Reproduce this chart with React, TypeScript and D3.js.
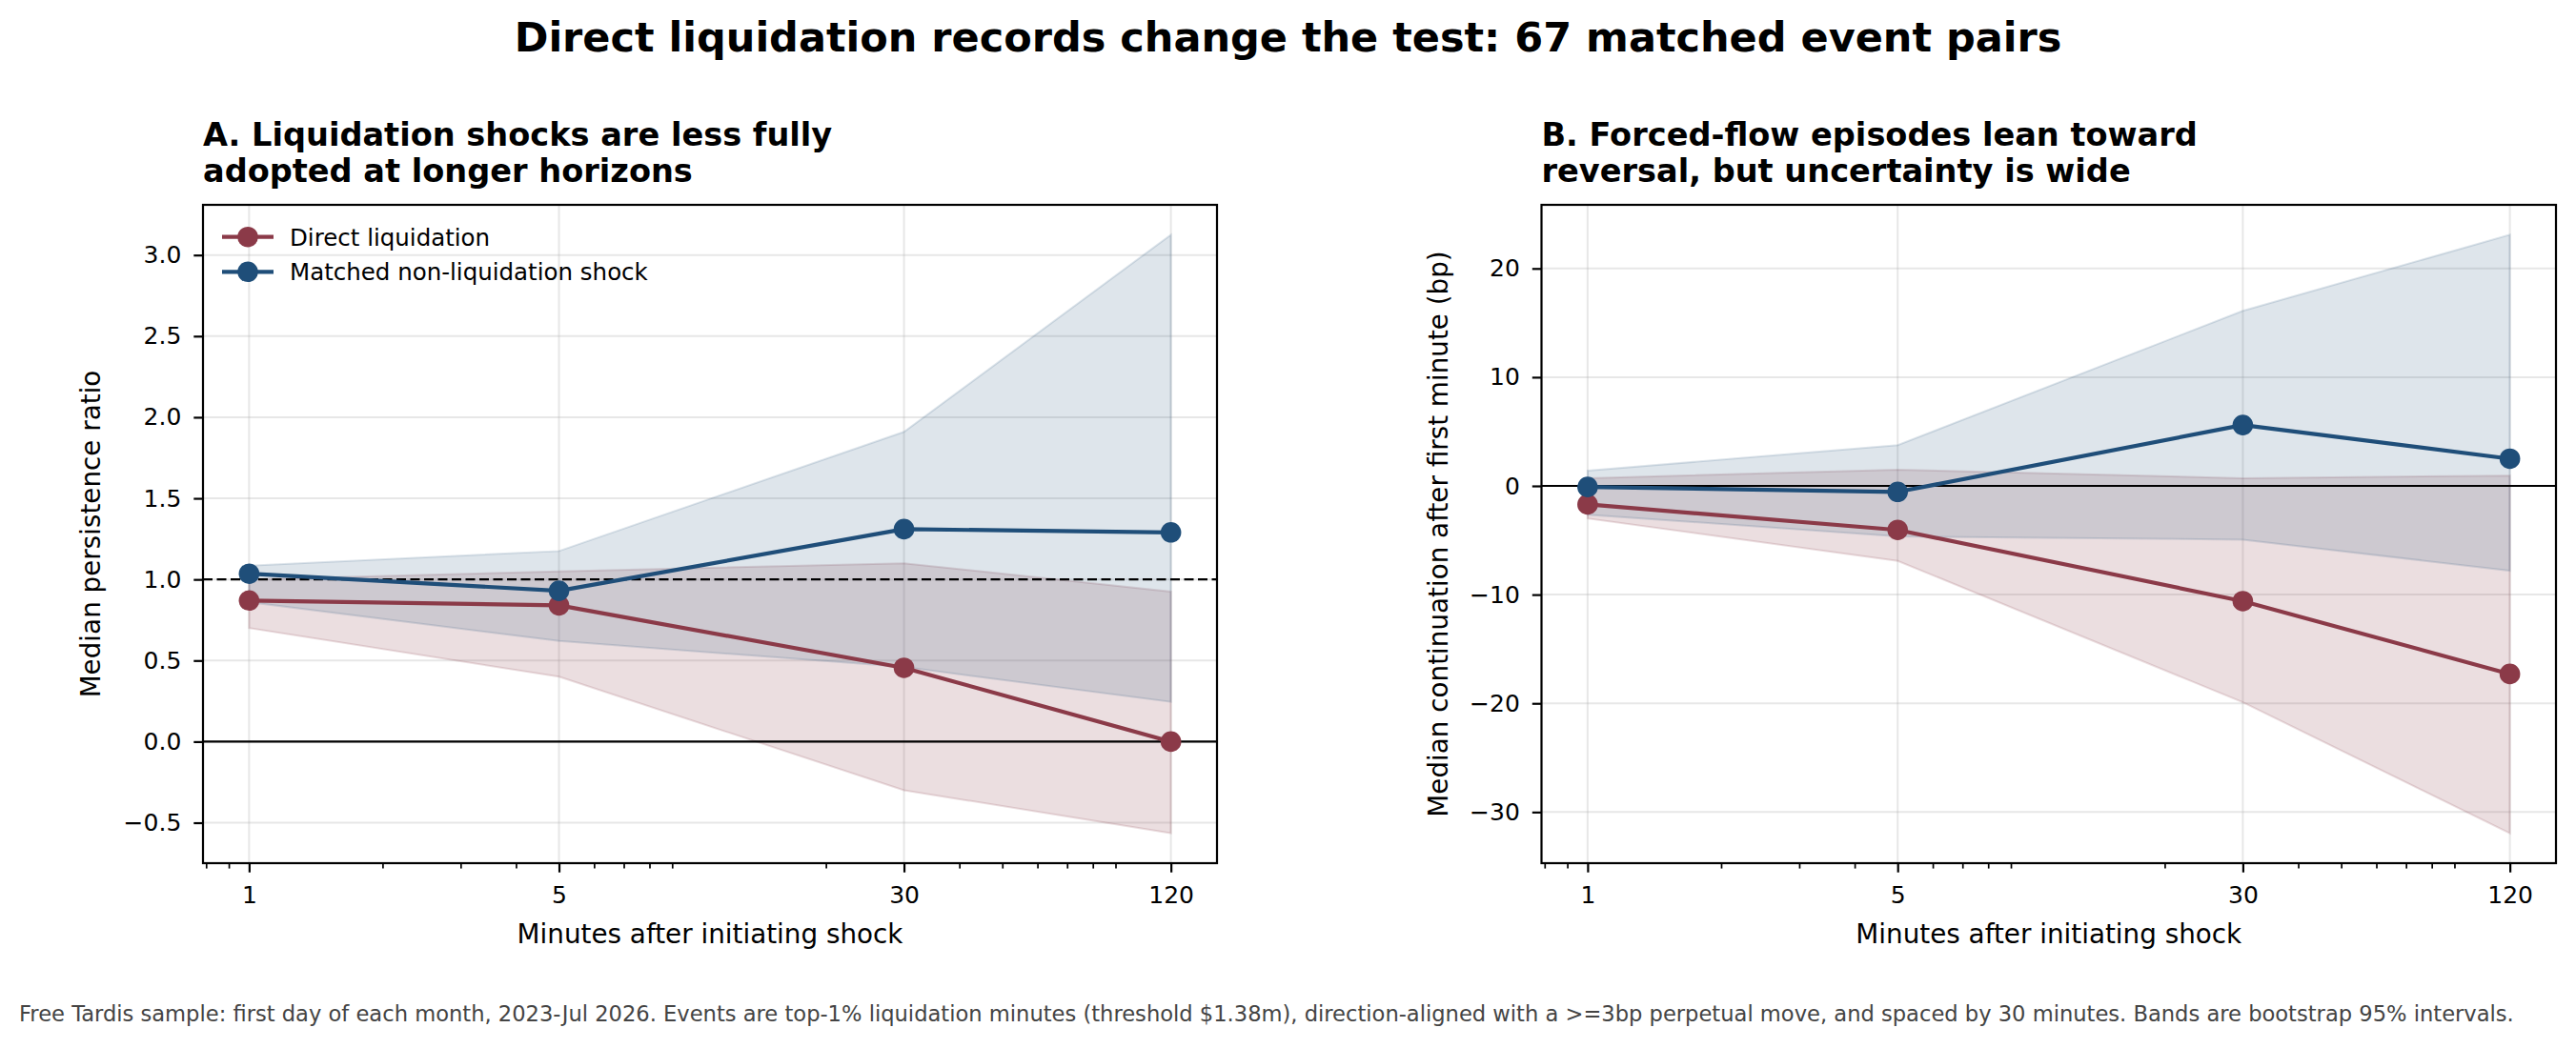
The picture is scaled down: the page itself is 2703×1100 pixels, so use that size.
import React, { useEffect, useRef } from "react";
import * as d3 from "d3";

// horizons (minutes after initiating shock)
const horizons = [1, 5, 30, 120];
const minorTicks = [0.8, 0.9, 2, 3, 4, 6, 7, 8, 9, 20, 40, 50, 60, 70, 80, 90];

// Panel A: median persistence ratio
const ratioDirect = [0.87, 0.84, 0.455, 0.0];
const ratioDirectLo = [0.7, 0.4, -0.3, -0.565];
const ratioDirectHi = [1.0, 1.05, 1.1, 0.925];
const ratioMatched = [1.035, 0.93, 1.31, 1.29];
const ratioMatchedLo = [0.86, 0.62, 0.46, 0.245];
const ratioMatchedHi = [1.085, 1.175, 1.91, 3.125];
const ratioTicks = [-0.5, 0, 0.5, 1.0, 1.5, 2.0, 2.5, 3.0];

// Panel B: median continuation after first minute (bp)
const contDirect = [-1.7, -4.05, -10.6, -17.3];
const contDirectLo = [-3.0, -6.9, -19.9, -31.95];
const contDirectHi = [0.7, 1.5, 0.7, 0.95];
const contMatched = [-0.1, -0.55, 5.6, 2.5];
const contMatchedLo = [-2.65, -4.65, -4.95, -7.8];
const contMatchedHi = [1.4, 3.75, 16.1, 23.1];
const contTicks = [-30, -20, -10, 0, 10, 20];

const seriesNames = ["Direct liquidation", "Matched non-liquidation shock"];
const RED = "#8B3A48";
const BLUE = "#1F4E79";
const FONT = "DejaVu Sans";

const W = 2703;
const H = 1100;
const TOP = 215;
const BOTTOM = 906;

const fmtMinus = (s: string) => s.replace("-", "\u2212");

interface PanelCfg {
  left: number;
  right: number;
  title: string[];
  ylabel: string;
  ylabelX: number;
  yTicks: number[];
  yFmt: (d: number) => string;
  direct: number[];
  directLo: number[];
  directHi: number[];
  matched: number[];
  matchedLo: number[];
  matchedHi: number[];
  refLine?: number;
  legend: boolean;
}

const drawPanel = (svg: d3.Selection<SVGSVGElement, unknown, null, undefined>, c: PanelCfg) => {
  const g = svg.append("g");
  const lx = Math.log10(horizons[0]);
  const hx = Math.log10(horizons[horizons.length - 1]);
  const px = (hx - lx) * 0.05;
  const x = d3
    .scaleLog()
    .domain([Math.pow(10, lx - px), Math.pow(10, hx + px)])
    .range([c.left, c.right]);

  const all = [...c.directLo, ...c.directHi, ...c.matchedLo, ...c.matchedHi, ...c.direct, ...c.matched];
  const ymin = d3.min(all) as number;
  const ymax = d3.max(all) as number;
  const py = (ymax - ymin) * 0.05;
  const y = d3.scaleLinear().domain([ymin - py, ymax + py]).range([BOTTOM, TOP]);

  // grid
  g.selectAll(".hgrid")
    .data(c.yTicks)
    .enter()
    .append("line")
    .attr("x1", c.left)
    .attr("x2", c.right)
    .attr("y1", (d) => y(d))
    .attr("y2", (d) => y(d))
    .attr("stroke", "#b0b0b0")
    .attr("stroke-opacity", 0.3)
    .attr("stroke-width", 2);
  g.selectAll(".vgrid")
    .data(horizons)
    .enter()
    .append("line")
    .attr("x1", (d) => x(d))
    .attr("x2", (d) => x(d))
    .attr("y1", TOP)
    .attr("y2", BOTTOM)
    .attr("stroke", "#b0b0b0")
    .attr("stroke-opacity", 0.3)
    .attr("stroke-width", 2);

  // bootstrap bands
  const band = (lo: number[], hi: number[], color: string, op: number) => {
    const a = d3
      .area<number>()
      .x((_, i) => x(horizons[i]))
      .y0((_, i) => y(lo[i]))
      .y1((_, i) => y(hi[i]));
    g.append("path")
      .attr("d", a(horizons) as string)
      .attr("fill", color)
      .attr("fill-opacity", op)
      .attr("stroke", color)
      .attr("stroke-opacity", op)
      .attr("stroke-width", 2);
  };
  band(c.directLo, c.directHi, RED, 0.17);
  band(c.matchedLo, c.matchedHi, BLUE, 0.15);

  // reference lines
  g.append("line")
    .attr("x1", c.left)
    .attr("x2", c.right)
    .attr("y1", y(0))
    .attr("y2", y(0))
    .attr("stroke", "#000")
    .attr("stroke-width", 2.2);
  if (c.refLine !== undefined) {
    g.append("line")
      .attr("x1", c.left)
      .attr("x2", c.right)
      .attr("y1", y(c.refLine))
      .attr("y2", y(c.refLine))
      .attr("stroke", "#000")
      .attr("stroke-width", 2.4)
      .attr("stroke-dasharray", "10,4.5");
  }

  // series
  const line = d3
    .line<number>()
    .x((_, i) => x(horizons[i]))
    .y((d) => y(d));
  const series = (vals: number[], color: string) => {
    g.append("path")
      .attr("d", line(vals) as string)
      .attr("fill", "none")
      .attr("stroke", color)
      .attr("stroke-width", 4.2)
      .attr("stroke-linejoin", "round");
    g.selectAll(null)
      .data(vals)
      .enter()
      .append("circle")
      .attr("cx", (_, i) => x(horizons[i]))
      .attr("cy", (d) => y(d))
      .attr("r", 10.8)
      .attr("fill", color);
  };
  series(c.direct, RED);
  series(c.matched, BLUE);

  // spines
  g.append("rect")
    .attr("x", c.left)
    .attr("y", TOP)
    .attr("width", c.right - c.left)
    .attr("height", BOTTOM - TOP)
    .attr("fill", "none")
    .attr("stroke", "#000")
    .attr("stroke-width", 2.2);

  // axes
  const xAxis = g
    .append("g")
    .attr("transform", `translate(0,${BOTTOM})`)
    .call(
      d3
        .axisBottom(x)
        .tickValues(horizons)
        .tickFormat((d) => String(d))
        .tickSize(9.7)
        .tickPadding(14.5)
    );
  xAxis.select(".domain").remove();
  xAxis.selectAll("line").attr("stroke", "#000").attr("stroke-width", 2.2);
  xAxis.selectAll("text").attr("font-size", 25).attr("font-family", FONT).attr("fill", "#000");

  const xMinor = g
    .append("g")
    .attr("transform", `translate(0,${BOTTOM})`)
    .call(d3.axisBottom(x).tickValues(minorTicks).tickFormat(() => "").tickSize(5.6));
  xMinor.select(".domain").remove();
  xMinor.selectAll("line").attr("stroke", "#000").attr("stroke-width", 1.7);

  const yAxis = g
    .append("g")
    .attr("transform", `translate(${c.left},0)`)
    .call(
      d3
        .axisLeft(y)
        .tickValues(c.yTicks)
        .tickFormat((d) => c.yFmt(d as number))
        .tickSize(9.7)
        .tickPadding(13)
    );
  yAxis.select(".domain").remove();
  yAxis.selectAll("line").attr("stroke", "#000").attr("stroke-width", 2.2);
  yAxis.selectAll("text").attr("font-size", 25).attr("font-family", FONT).attr("fill", "#000");

  // labels
  g.append("text")
    .attr("x", (c.left + c.right) / 2)
    .attr("y", 990)
    .attr("text-anchor", "middle")
    .attr("font-family", FONT)
    .attr("font-size", 27.8)
    .text("Minutes after initiating shock");
  g.append("text")
    .attr("transform", `translate(${c.ylabelX},${(TOP + BOTTOM) / 2}) rotate(-90)`)
    .attr("text-anchor", "middle")
    .attr("dominant-baseline", "central")
    .attr("font-family", FONT)
    .attr("font-size", 27.8)
    .text(c.ylabel);
  c.title.forEach((t, i) => {
    g.append("text")
      .attr("x", c.left)
      .attr("y", 152.6 + i * 38.4)
      .attr("font-family", FONT)
      .attr("font-weight", "bold")
      .attr("font-size", 33.6)
      .text(t);
  });

  if (c.legend) {
    const lg = g.append("g");
    [RED, BLUE].forEach((col, i) => {
      const ly = 248.7 + i * 36.6;
      lg.append("line")
        .attr("x1", 233)
        .attr("x2", 287)
        .attr("y1", ly)
        .attr("y2", ly)
        .attr("stroke", col)
        .attr("stroke-width", 4.2);
      lg.append("circle").attr("cx", 260).attr("cy", ly).attr("r", 10.8).attr("fill", col);
      lg.append("text")
        .attr("x", 304)
        .attr("y", ly)
        .attr("dy", "0.36em")
        .attr("font-family", FONT)
        .attr("font-size", 24.5)
        .text(seriesNames[i]);
    });
  }
};

const App: React.FC = () => {
  const svgRef = useRef<SVGSVGElement>(null);

  useEffect(() => {
    document.body.style.margin = "0";
    const svg = d3.select(svgRef.current as SVGSVGElement);
    svg.selectAll("*").remove();

    svg.append("rect").attr("width", W).attr("height", H).attr("fill", "#fff");

    svg
      .append("text")
      .attr("x", W / 2)
      .attr("y", 54)
      .attr("text-anchor", "middle")
      .attr("font-family", FONT)
      .attr("font-weight", "bold")
      .attr("font-size", 43)
      .text("Direct liquidation records change the test: 67 matched event pairs");

    drawPanel(svg, {
      left: 213,
      right: 1277,
      title: ["A. Liquidation shocks are less fully", "adopted at longer horizons"],
      ylabel: "Median persistence ratio",
      ylabelX: 95,
      yTicks: ratioTicks,
      yFmt: (d) => fmtMinus(d.toFixed(1)),
      direct: ratioDirect,
      directLo: ratioDirectLo,
      directHi: ratioDirectHi,
      matched: ratioMatched,
      matchedLo: ratioMatchedLo,
      matchedHi: ratioMatchedHi,
      refLine: 1.0,
      legend: true,
    });

    drawPanel(svg, {
      left: 1617.5,
      right: 2682,
      title: ["B. Forced-flow episodes lean toward", "reversal, but uncertainty is wide"],
      ylabel: "Median continuation after first minute (bp)",
      ylabelX: 1509,
      yTicks: contTicks,
      yFmt: (d) => fmtMinus(String(d)),
      direct: contDirect,
      directLo: contDirectLo,
      directHi: contDirectHi,
      matched: contMatched,
      matchedLo: contMatchedLo,
      matchedHi: contMatchedHi,
      legend: false,
    });

    svg
      .append("text")
      .attr("x", 20)
      .attr("y", 1072)
      .attr("font-family", FONT)
      .attr("font-size", 22.6)
      .attr("fill", "#444")
      .text(
        "Free Tardis sample: first day of each month, 2023-Jul 2026. Events are top-1% liquidation minutes (threshold $1.38m), direction-aligned with a >=3bp perpetual move, and spaced by 30 minutes. Bands are bootstrap 95% intervals."
      );
  }, []);

  return <svg ref={svgRef} width={W} height={H} style={{ display: "block" }} />;
};

export default App;
